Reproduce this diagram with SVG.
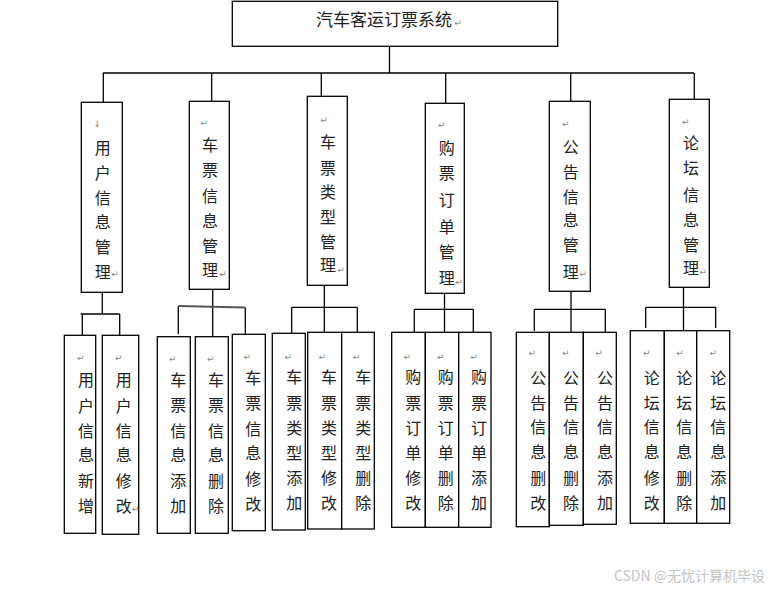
<svg xmlns="http://www.w3.org/2000/svg" width="772" height="589" viewBox="0 0 772 589">
<style>
.box{fill:#fff;stroke:#000;stroke-width:1.3}
.ln{fill:none;stroke:#000;stroke-width:1.3}
.c{font-family:"Noto Sans CJK SC","Noto Sans CJK JP",sans-serif;font-size:16px;fill:#222;text-anchor:middle}
.t{font-family:"Noto Sans CJK SC","Noto Sans CJK JP",sans-serif;font-size:17px;fill:#222}
.pm{font-family:"DejaVu Sans",sans-serif;font-size:9px;fill:#888;text-anchor:middle}
.wm{font-family:"Noto Sans CJK SC","Liberation Sans",sans-serif;font-size:14px;fill:#c4c4c4;text-anchor:end}
</style>
<rect width="772" height="589" fill="#fff"/>
<g id="connectors">
<path class="ln" d="M389.5 46V73M103 73H694M103.3 73V102M211.7 73V101M321.3 73V102M445.7 73V103M570.7 73V101M694.3 73V99"/>
<path class="ln" d="M102.3 292V314M80.7 314H119.7M82.3 314V335M119.7 314V336"/>
<path class="ln" d="M212.7 289V336M178.3 306V334M245.3 307.5V334"/>
<path fill="none" stroke="#555" stroke-width="2" d="M178.3 306L245.3 307.5"/>
<path class="ln" d="M324.3 285V332M291.7 307.3H357.3M291.7 307.3V333M357.3 307.3V332"/>
<path class="ln" d="M444.5 293V332M414.3 309.3H473.3M414.3 309.3V332M473.3 309.3V332"/>
<path class="ln" d="M571 291V332M534.3 309.3H605.3M534.3 309.3V331M605.3 309.3V332"/>
<path class="ln" d="M683.5 287V331M645.7 307.3H715.7M645.7 307.3V328M715.7 307.3V328"/>
</g>
<g id="root">
<rect class="box" x="232.3" y="1.3" width="325.4" height="45"/>
<text class="t" x="316" y="26">汽车客运订票系统</text>
<text class="pm" x="458" y="26">↵</text>
</g>
<g id="n1">
<rect class="box" x="81.3" y="102.3" width="41" height="190"/>
<text class="pm" x="97.3" y="127">↓</text>
<text class="c"><tspan x="102.7" y="154">用</tspan><tspan x="102.7" y="179">户</tspan><tspan x="102.7" y="204">信</tspan><tspan x="102.7" y="228">息</tspan><tspan x="102.7" y="253">管</tspan><tspan x="102.7" y="278">理</tspan></text>
<text class="pm" x="115" y="276.5">↵</text>
</g>
<g id="n2">
<rect class="box" x="189.3" y="101.3" width="40" height="188"/>
<text class="pm" x="204" y="126">↵</text>
<text class="c"><tspan x="210" y="151">车</tspan><tspan x="210" y="176">票</tspan><tspan x="210" y="202">信</tspan><tspan x="210" y="227">息</tspan><tspan x="210" y="252">管</tspan><tspan x="210" y="276">理</tspan></text>
<text class="pm" x="223" y="276.5">↵</text>
</g>
<g id="n3">
<rect class="box" x="307.3" y="96.3" width="40" height="189"/>
<text class="pm" x="324" y="123">↵</text>
<text class="c"><tspan x="328" y="148">车</tspan><tspan x="328" y="174">票</tspan><tspan x="328" y="198">类</tspan><tspan x="328" y="223">型</tspan><tspan x="328" y="248">管</tspan><tspan x="328" y="271">理</tspan></text>
<text class="pm" x="341" y="273">↵</text>
</g>
<g id="n4">
<rect class="box" x="425.3" y="103.3" width="39" height="190"/>
<text class="pm" x="441.7" y="128">↵</text>
<text class="c"><tspan x="446.7" y="154">购</tspan><tspan x="446.7" y="179">票</tspan><tspan x="446.7" y="206">订</tspan><tspan x="446.7" y="233">单</tspan><tspan x="446.7" y="258">管</tspan><tspan x="446.7" y="284">理</tspan></text>
<text class="pm" x="459" y="284.7">↵</text>
</g>
<g id="n5">
<rect class="box" x="549.3" y="101.3" width="41" height="190"/>
<text class="pm" x="565.7" y="127">↵</text>
<text class="c"><tspan x="570.7" y="153">公</tspan><tspan x="570.7" y="178">告</tspan><tspan x="570.7" y="203">信</tspan><tspan x="570.7" y="226">息</tspan><tspan x="570.7" y="251">管</tspan><tspan x="570.7" y="278">理</tspan></text>
<text class="pm" x="583.3" y="277.3">↵</text>
</g>
<g id="n6">
<rect class="box" x="669.3" y="99.3" width="40" height="188"/>
<text class="pm" x="685.7" y="124.7">↵</text>
<text class="c"><tspan x="691" y="149">论</tspan><tspan x="691" y="174">坛</tspan><tspan x="691" y="201">信</tspan><tspan x="691" y="226">息</tspan><tspan x="691" y="251">管</tspan><tspan x="691" y="274">理</tspan></text>
<text class="pm" x="703.3" y="274.7">↵</text>
</g>
<g id="n1a">
<rect class="box" x="64.3" y="335.3" width="31.4" height="198"/>
<text class="pm" x="80.7" y="361.3">↵</text>
<text class="c"><tspan x="86" y="386">用</tspan><tspan x="86" y="412">户</tspan><tspan x="86" y="437">信</tspan><tspan x="86" y="461">息</tspan><tspan x="86" y="487">新</tspan><tspan x="86" y="512">增</tspan></text>
</g>
<g id="n1b">
<rect class="box" x="102.3" y="335.3" width="36.4" height="199"/>
<text class="pm" x="118.7" y="361.3">↵</text>
<text class="c"><tspan x="123.7" y="386">用</tspan><tspan x="123.7" y="412">户</tspan><tspan x="123.7" y="437">信</tspan><tspan x="123.7" y="461">息</tspan><tspan x="123.7" y="487">修</tspan><tspan x="123.7" y="512">改</tspan></text>
<text class="pm" x="135.5" y="512">↵</text>
</g>
<g id="n2a">
<rect class="box" x="157.3" y="336.7" width="33" height="196.6"/>
<text class="pm" x="172.7" y="362">↵</text>
<text class="c"><tspan x="178.3" y="386">车</tspan><tspan x="178.3" y="411">票</tspan><tspan x="178.3" y="437">信</tspan><tspan x="178.3" y="461">息</tspan><tspan x="178.3" y="487">添</tspan><tspan x="178.3" y="512">加</tspan></text>
</g>
<g id="n2b">
<rect class="box" x="195.3" y="336.7" width="33" height="196.6"/>
<text class="pm" x="210.7" y="362">↵</text>
<text class="c"><tspan x="216" y="386">车</tspan><tspan x="216" y="411">票</tspan><tspan x="216" y="437">信</tspan><tspan x="216" y="461">息</tspan><tspan x="216" y="487">删</tspan><tspan x="216" y="512">除</tspan></text>
</g>
<g id="n2c">
<rect class="box" x="232.3" y="334.3" width="33" height="196.4"/>
<text class="pm" x="247.3" y="359.7">↵</text>
<text class="c"><tspan x="253.3" y="384">车</tspan><tspan x="253.3" y="409">票</tspan><tspan x="253.3" y="435">信</tspan><tspan x="253.3" y="459">息</tspan><tspan x="253.3" y="485">修</tspan><tspan x="253.3" y="510">改</tspan></text>
</g>
<g id="n3a">
<rect class="box" x="272.3" y="333.3" width="33" height="196.7"/>
<text class="pm" x="288.3" y="359.7">↵</text>
<text class="c"><tspan x="294.3" y="383">车</tspan><tspan x="294.3" y="409">票</tspan><tspan x="294.3" y="434">类</tspan><tspan x="294.3" y="459">型</tspan><tspan x="294.3" y="484">添</tspan><tspan x="294.3" y="509">加</tspan></text>
</g>
<g id="n3b">
<rect class="box" x="307.7" y="332.3" width="34" height="196.7"/>
<text class="pm" x="322.3" y="359.7">↵</text>
<text class="c"><tspan x="329" y="383">车</tspan><tspan x="329" y="409">票</tspan><tspan x="329" y="434">类</tspan><tspan x="329" y="459">型</tspan><tspan x="329" y="484">修</tspan><tspan x="329" y="509">改</tspan></text>
</g>
<g id="n3c">
<rect class="box" x="341.7" y="332.3" width="32.6" height="196.7"/>
<text class="pm" x="356.7" y="359.7">↵</text>
<text class="c"><tspan x="363.3" y="383">车</tspan><tspan x="363.3" y="409">票</tspan><tspan x="363.3" y="434">类</tspan><tspan x="363.3" y="459">型</tspan><tspan x="363.3" y="484">删</tspan><tspan x="363.3" y="509">除</tspan></text>
</g>
<g id="n4a">
<rect class="box" x="391.7" y="332.3" width="33.6" height="195"/>
<text class="pm" x="407.3" y="359.7">↵</text>
<text class="c"><tspan x="413.3" y="383">购</tspan><tspan x="413.3" y="409">票</tspan><tspan x="413.3" y="434">订</tspan><tspan x="413.3" y="459">单</tspan><tspan x="413.3" y="484">修</tspan><tspan x="413.3" y="509">改</tspan></text>
</g>
<g id="n4b">
<rect class="box" x="425.3" y="332.3" width="33.4" height="195"/>
<text class="pm" x="440.7" y="359.7">↵</text>
<text class="c"><tspan x="445.7" y="383">购</tspan><tspan x="445.7" y="409">票</tspan><tspan x="445.7" y="434">订</tspan><tspan x="445.7" y="459">单</tspan><tspan x="445.7" y="484">删</tspan><tspan x="445.7" y="509">除</tspan></text>
</g>
<g id="n4c">
<rect class="box" x="458.7" y="332.3" width="32.3" height="195"/>
<text class="pm" x="474" y="359.7">↵</text>
<text class="c"><tspan x="479" y="383">购</tspan><tspan x="479" y="409">票</tspan><tspan x="479" y="434">订</tspan><tspan x="479" y="459">单</tspan><tspan x="479" y="484">添</tspan><tspan x="479" y="509">加</tspan></text>
</g>
<g id="n5a">
<rect class="box" x="516.3" y="332.3" width="33" height="194.4"/>
<text class="pm" x="532.3" y="356.3">↵</text>
<text class="c"><tspan x="538.3" y="384">公</tspan><tspan x="538.3" y="409">告</tspan><tspan x="538.3" y="433">信</tspan><tspan x="538.3" y="458">息</tspan><tspan x="538.3" y="484">删</tspan><tspan x="538.3" y="509">改</tspan></text>
</g>
<g id="n5b">
<rect class="box" x="549.3" y="332.3" width="34" height="193"/>
<text class="pm" x="565.7" y="356.3">↵</text>
<text class="c"><tspan x="571" y="384">公</tspan><tspan x="571" y="409">告</tspan><tspan x="571" y="433">信</tspan><tspan x="571" y="458">息</tspan><tspan x="571" y="484">删</tspan><tspan x="571" y="509">除</tspan></text>
</g>
<g id="n5c">
<rect class="box" x="583.3" y="332.3" width="33" height="192"/>
<text class="pm" x="599" y="356.3">↵</text>
<text class="c"><tspan x="605" y="384">公</tspan><tspan x="605" y="409">告</tspan><tspan x="605" y="433">信</tspan><tspan x="605" y="458">息</tspan><tspan x="605" y="484">添</tspan><tspan x="605" y="509">加</tspan></text>
</g>
<g id="n6a">
<rect class="box" x="630.3" y="330.7" width="34" height="192.6"/>
<text class="pm" x="646.7" y="355.7">↵</text>
<text class="c"><tspan x="651.7" y="384">论</tspan><tspan x="651.7" y="409">坛</tspan><tspan x="651.7" y="433">信</tspan><tspan x="651.7" y="458">息</tspan><tspan x="651.7" y="484">修</tspan><tspan x="651.7" y="509">改</tspan></text>
</g>
<g id="n6b">
<rect class="box" x="664.3" y="330.7" width="32.4" height="192.6"/>
<text class="pm" x="680" y="355.7">↵</text>
<text class="c"><tspan x="684.3" y="384">论</tspan><tspan x="684.3" y="409">坛</tspan><tspan x="684.3" y="433">信</tspan><tspan x="684.3" y="458">息</tspan><tspan x="684.3" y="484">删</tspan><tspan x="684.3" y="509">除</tspan></text>
</g>
<g id="n6c">
<rect class="box" x="696.7" y="330.7" width="33" height="192.6"/>
<text class="pm" x="713.3" y="355.7">↵</text>
<text class="c"><tspan x="718.3" y="384">论</tspan><tspan x="718.3" y="409">坛</tspan><tspan x="718.3" y="433">信</tspan><tspan x="718.3" y="458">息</tspan><tspan x="718.3" y="484">添</tspan><tspan x="718.3" y="509">加</tspan></text>
</g>
<text class="wm" x="765" y="581">CSDN @无忧计算机毕设</text>
</svg>
